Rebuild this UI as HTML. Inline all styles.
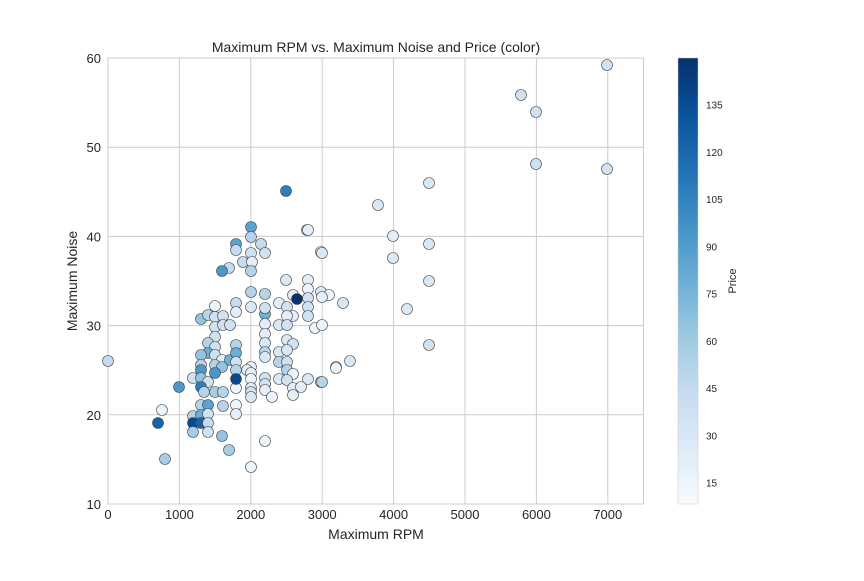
<!DOCTYPE html>
<html><head><meta charset="utf-8"><style>
body{margin:0;background:#fff}
svg text{font-family:"Liberation Sans","DejaVu Sans",sans-serif;fill:#262626}
</style></head><body>
<svg id="s" width="864" height="576" xmlns="http://www.w3.org/2000/svg">
<defs><linearGradient id="g" x1="0" y1="1" x2="0" y2="0">
<stop offset="0" stop-color="#f7fbff"/><stop offset="0.125" stop-color="#deebf7"/><stop offset="0.25" stop-color="#c6dbef"/><stop offset="0.375" stop-color="#9ecae1"/><stop offset="0.5" stop-color="#6baed6"/><stop offset="0.625" stop-color="#4292c6"/><stop offset="0.75" stop-color="#2171b5"/><stop offset="0.875" stop-color="#08519c"/><stop offset="1" stop-color="#08306b"/></linearGradient></defs>
<rect x="108" y="58" width="535.5" height="446" fill="#fff" stroke="#ccc"/>
<g id="grid" stroke="#cccccc" stroke-width="1"></g>
<g id="pts"></g>
<text x="376" y="52" font-size="14" text-anchor="middle">Maximum RPM vs. Maximum Noise and Price (color)</text>
<g id="tl" font-size="13"></g>
<text x="376" y="539" font-size="14" text-anchor="middle">Maximum RPM</text>
<text transform="translate(77,281) rotate(-90)" font-size="14" text-anchor="middle">Maximum Noise</text>
<rect x="678" y="58" width="20" height="446" fill="url(#g)" stroke="#ccc" stroke-width="0.5"/>
<g id="cb" font-size="10"></g>
<text transform="translate(736,281) rotate(-90)" font-size="11" text-anchor="middle">Price</text>
</svg>
<script>
var ns="http://www.w3.org/2000/svg";
function el(p,t,a,txt){var e=document.createElementNS(ns,t);for(var k in a)e.setAttribute(k,a[k]);if(txt!=null)e.textContent=txt;document.getElementById(p).appendChild(e);}
for(var i=0;i<=7;i++){var x=108+i*71.4;el('grid','line',{x1:x,x2:x,y1:58,y2:504});el('tl','text',{x:x,y:519,'text-anchor':'middle'},String(i*1000));}
for(var j=0;j<=5;j++){var y=504-j*89.2;el('grid','line',{x1:108,x2:643.5,y1:y,y2:y});el('tl','text',{x:101,y:y+5,'text-anchor':'end'},String(10+j*10));}
for(var v=15;v<=135;v+=15){var y=483-(v-15)*3.15;el('cb','text',{x:706,y:y+3.5},String(v));}
var st=[[247,251,255],[222,235,247],[198,219,239],[158,202,225],[107,174,214],[66,146,198],[33,113,181],[8,81,156],[8,48,107]];
function col(c){var f=c*8,i=Math.min(7,Math.floor(f)),t=f-i,a=st[i],b=st[i+1];return 'rgb('+a.map(function(v,k){return Math.round(v+(b[k]-v)*t)}).join(',')+')';}
var P=[[108,361,.25],[179,387,.6],[521,95,.2],[536,112,.2],[536,164,.2],[607,65,.2],[607,169,.2],[429,183,.15],[429,244,.15],[429,281,.15],[429,345,.2],[393,236,.1],[393,258,.15],[407,309,.15],[378,205,.15],[350,361,.15],[336,367,.1],[321,382,.15],[321,292,.15],[343,303,.15],[329,295,.05],[321,252,.05],[307,230,.05],[286,191,.7],
[251,227,.55],[251,237,.3],[236,244,.55],[236,250,.25],[261,244,.25],[265,253,.2],[251,253,.2],[243,262,.25],[252,262,.1],[229,268,.25],[222,271,.6],[251,271,.3],[308,230,.1],[322,253,.15],[286,280,.15],[308,280,.1],[308,289,.05],[293,295,.1],[308,298,.2],[322,297,.1],[251,292,.3],[265,294,.3],[279,303,.1],[287,307,.2],[308,307,.2],[308,316,.2],[293,316,.1],[287,316,.1],[265,314,.5],[265,308,.2],[251,307,.15],[236,303,.25],[236,312,.1],[215,306,.05],[201,319,.4],[208,315,.3],[215,317,.2],[223,316,.2],[215,327,.2],[223,325,.2],[230,325,.2],[265,324,.1],[279,325,.15],[287,325,.2],[315,328,.05],[322,325,.05],[215,337,.2],[265,334,.1],[208,343,.3],[215,347,.2],[236,345,.3],[265,343,.15],[287,340,.15],[293,344,.2],[279,352,.15],[287,350,.15],[265,352,.3],[265,357,.15],[208,353,.5],[201,355,.4],[215,355,.2],[222,360,.1],[230,360,.5],[236,353,.5],[236,362,.2],[279,362,.3],[287,362,.2],[201,365,.3],[215,365,.3],[222,367,.4],[251,367,.1],[236,370,.3],[247,370,.1],[251,373,.1],[287,370,.3],[293,374,.05],[336,368,.05],[201,370,.6],[215,373,.6],[193,378,.2],[201,378,.4],[208,382,.2],[251,379,.05],[265,378,.2],[279,379,.15],[287,380,.2],[308,379,.15],[322,382,.3],[201,387,.7],[204,392,.3],[215,392,.35],[223,392,.3],[236,388,.05],[251,388,.1],[251,392,.2],[251,397,.15],[265,384,.2],[265,390,.1],[272,397,.05],[293,388,.1],[301,387,.1],[293,395,.1],[201,405,.3],[208,405,.55],[223,406,.3],[236,405,.05],[236,414,.1],[162,410,.05],[193,416,.3],[201,415,.5],[208,414,.2],[158,423,.8],[193,423,.9],[201,423,.8],[208,423,.25],[193,432,.35],[208,432,.2],[222,436,.4],[265,441,.05],[229,450,.35],[165,459,.35],[251,467,.05],[236,379,.9],[297,299,1]];
P.forEach(function(p){el('pts','circle',{cx:p[0],cy:p[1],r:5.5,fill:col(p[2]),stroke:'#444','stroke-width':0.6});});
</script>
</body></html>
